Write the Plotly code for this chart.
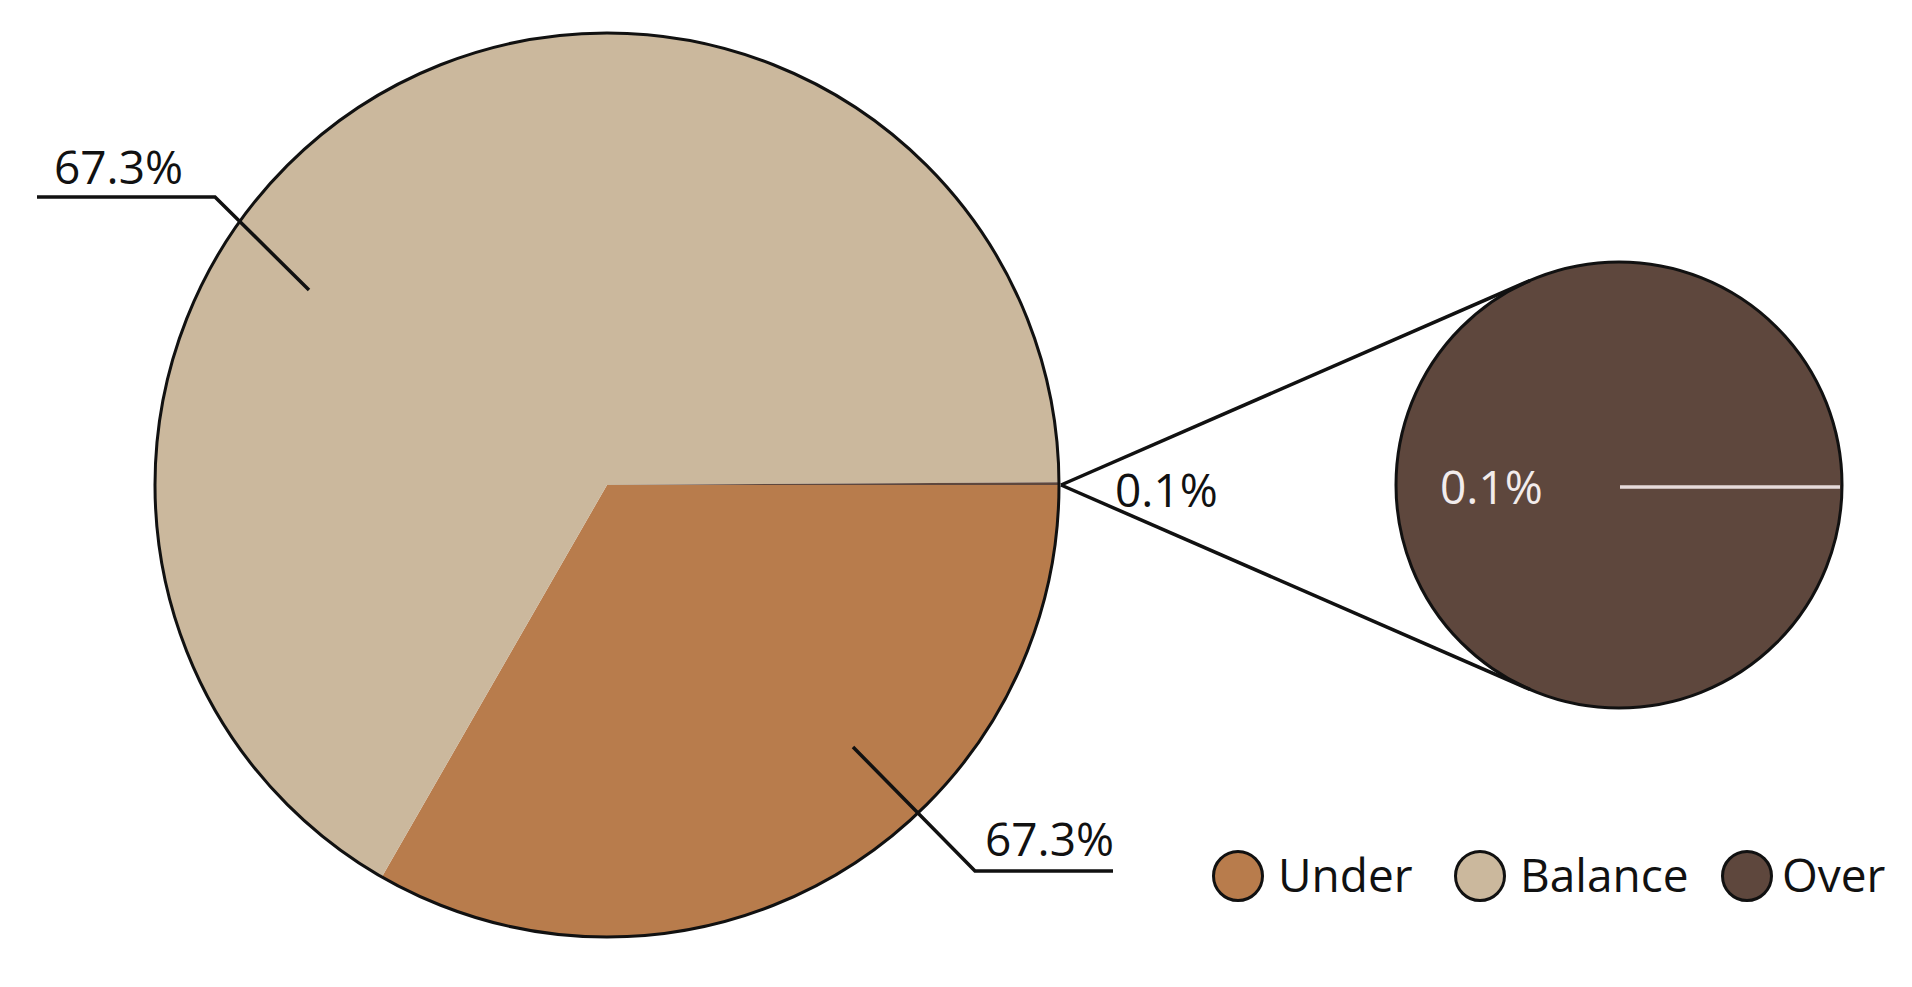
import math
import plotly.graph_objects as go

# ---- data ----
categories = ["Under", "Balance", "Over"]
values = [33.3, 66.6, 0.1]
colors = ["#B87C4C", "#CBB89D", "#5E473D"]
main_labels = ["67.3%", "67.3%", "0.1%"]   # label texts as printed in the chart
detail_category = ["Over"]
detail_values = [0.1]
detail_label = "0.1%"

# page body has an 8px margin; work in window pixel coordinates
OFF = 8
WIN_W, WIN_H = 1912, 987
W, H = WIN_W - OFF, WIN_H - OFF
FONT = "Open Sans"
FS = 46

# ---- layout geometry (window pixels) ----
mcx, mcy, mr = 607, 485, 452      # main pie
scx, scy, sr = 1619, 485, 223     # detail pie

def dom(cx, cy, r):
    cx -= OFF
    cy -= OFF
    return dict(x=[(cx - r) / W, (cx + r) / W], y=[(H - cy - r) / H, (H - cy + r) / H])

fig = go.Figure()
fig.add_trace(go.Pie(
    labels=categories, values=values, sort=False, direction="clockwise", rotation=90,
    marker=dict(colors=colors, line=dict(width=0)), textinfo="none", hoverinfo="label+percent",
    domain=dom(mcx, mcy, mr), showlegend=False,
))
fig.add_trace(go.Pie(
    labels=detail_category, values=detail_values, sort=False,
    marker=dict(colors=[colors[2]], line=dict(width=0)), textinfo="none",
    domain=dom(scx, scy, sr), showlegend=False,
))

shapes = []
ann = []
line_c = "#111111"
# outlines
shapes.append(dict(type="circle", xref="x", yref="y", x0=mcx - mr, x1=mcx + mr, y0=mcy - mr, y1=mcy + mr,
                   line=dict(color=line_c, width=3), fillcolor="rgba(0,0,0,0)"))
shapes.append(dict(type="circle", xref="x", yref="y", x0=scx - sr, x1=scx + sr, y0=scy - sr, y1=scy + sr,
                   line=dict(color=line_c, width=3), fillcolor="rgba(0,0,0,0)"))

# tangent connector lines from the Over slice point to the detail circle
px, py = mcx + mr + 2, mcy
d = scx - px
beta = math.acos(sr / d)
for s in (-1, 1):
    tx = scx - sr * math.cos(beta)
    ty = scy + s * sr * math.sin(beta)
    shapes.append(dict(type="line", xref="x", yref="y", x0=px, y0=py, x1=tx, y1=ty,
                       line=dict(color=line_c, width=3.5)))

# leader lines
def poly(pts, color=line_c, width=3.5):
    path = "M " + " L ".join(f"{x},{y}" for x, y in pts)
    shapes.append(dict(type="path", xref="x", yref="y", path=path, line=dict(color=color, width=width)))

poly([(309, 290), (215, 197), (37, 197)])
poly([(853, 747), (975, 871), (1113, 871)])
shapes.append(dict(type="line", xref="x", yref="y", x0=1620, x1=1840, y0=487, y1=487,
                   line=dict(color="#E6DADA", width=3.5)))

def text(t, x, y, xanchor="center", color="#111111"):
    ann.append(dict(text=t, x=x, y=y, xref="x", yref="y", xanchor=xanchor, yanchor="middle",
                    showarrow=False, font=dict(family=FONT, size=FS, color=color)))

text(main_labels[1], 118, 166)
text(main_labels[0], 1049, 838)
text(main_labels[2], 1166, 489)
text(detail_label, 1491, 486, color="#F2ECEC")

# legend
leg_cx = [1238, 1480, 1747]
leg_tx = [1276, 1518, 1780]
for name, col, cx, tx in zip(categories, colors, leg_cx, leg_tx):
    shapes.append(dict(type="circle", xref="x", yref="y", x0=cx - 24.5, x1=cx + 24.5, y0=876 - 24.5, y1=876 + 24.5,
                       line=dict(color=line_c, width=3), fillcolor=col))
    text(name, tx, 874, xanchor="left")

fig.update_layout(
    width=W, height=H, margin=dict(l=0, r=0, t=0, b=0),
    paper_bgcolor="white", plot_bgcolor="rgba(0,0,0,0)",
    xaxis=dict(range=[OFF, WIN_W], visible=False, fixedrange=True),
    yaxis=dict(range=[WIN_H, OFF], visible=False, fixedrange=True),
    shapes=shapes, annotations=ann, font=dict(family=FONT),
)
fig.write_html("out.html")
